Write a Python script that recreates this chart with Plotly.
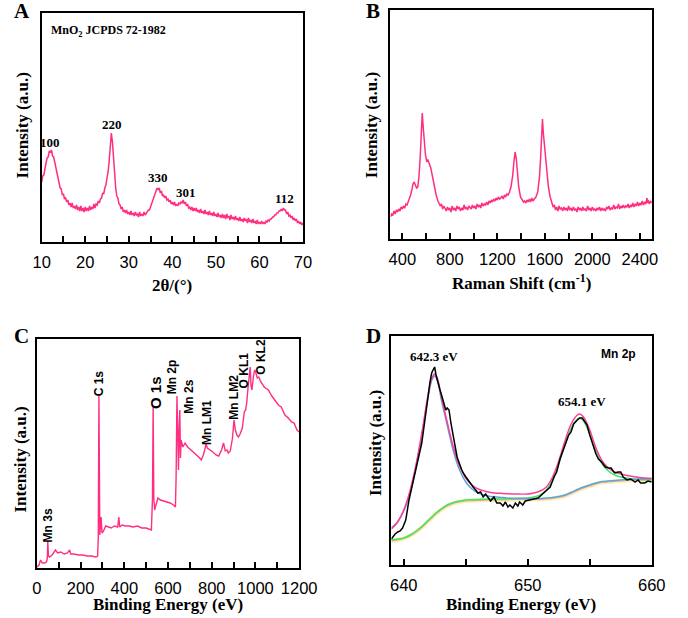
import plotly.graph_objects as go

# ---------------- Panel A: XRD ----------------
xrd_int = [60, 66, 67, 75, 79, 84, 85, 91, 90, 92, 86, 85, 80, 74, 70, 63, 61, 54, 53, 47,
           48, 43, 44, 40, 42, 37, 39, 35, 39, 34, 36, 33, 37, 32, 35, 31, 36, 31, 34, 30,
           35, 31, 34, 31, 36, 32, 35, 33, 38, 34, 38, 37, 41, 39, 43, 44, 49, 48, 54, 57,
           64, 70, 81, 95, 109, 100, 84, 66, 54, 46, 44, 38, 37, 33, 35, 30, 32, 29, 32, 28,
           30, 27, 31, 27, 29, 26, 30, 27, 28, 25, 30, 26, 28, 26, 30, 27, 29, 30, 32, 32,
           35, 37, 41, 43, 47, 50, 54, 52, 54, 49, 51, 46, 47, 44, 46, 42, 43, 40, 42, 38,
           40, 37, 40, 36, 38, 36, 39, 38, 40, 39, 42, 38, 40, 36, 38, 34, 35, 32, 35, 31,
           34, 31, 34, 30, 32, 29, 33, 29, 31, 28, 32, 28, 30, 27, 31, 27, 29, 26, 30, 26,
           28, 25, 29, 25, 27, 24, 28, 24, 27, 23, 28, 24, 26, 22, 27, 23, 25, 22, 26, 22,
           24, 21, 25, 21, 23, 20, 24, 21, 23, 19, 24, 20, 22, 19, 23, 19, 21, 18, 22, 18,
           20, 18, 21, 18, 20, 18, 21, 20, 22, 21, 23, 23, 25, 25, 27, 27, 29, 29, 31, 31,
           33, 31, 34, 32, 32, 28, 30, 26, 27, 24, 26, 22, 24, 21, 23, 19, 21, 18, 20, 17,
           19]
xrd_2theta = [10 + 0.25 * i for i in range(241)]
xrd_peak_labels = ["100", "220", "330", "301", "112"]
xrd_peak_x = [12.0, 26.1, 36.7, 43.1, 65.8]
xrd_peak_y = [100, 118, 65, 50, 44]

# ---------------- Panel B: Raman ----------------
raman_shift = [300, 310, 320, 330, 340, 350, 360, 370, 380, 390,
               400, 410, 420, 430, 440, 450, 460, 470, 480, 490,
               500, 510, 520, 530, 540, 550, 560, 568, 576, 585,
               595, 605, 615, 625, 640, 655, 670, 685, 700, 710,
               720, 730, 740, 750, 760, 770, 780, 790, 800, 810,
               820, 830, 840, 850, 860, 870, 880, 890, 900, 910,
               920, 930, 940, 950, 960, 970, 980, 990, 1000, 1010,
               1020, 1030, 1040, 1050, 1060, 1070, 1080, 1090, 1100, 1110,
               1120, 1130, 1140, 1150, 1160, 1170, 1180, 1190, 1200, 1210,
               1220, 1230, 1240, 1250, 1260, 1270, 1280, 1290, 1300, 1315,
               1330, 1340, 1350, 1360, 1370, 1380, 1395, 1410, 1420, 1430,
               1440, 1450, 1460, 1470, 1480, 1490, 1500, 1510, 1525, 1540,
               1555, 1565, 1573, 1580, 1588, 1598, 1608, 1618, 1630, 1645,
               1660, 1670, 1680, 1690, 1700, 1710, 1720, 1730, 1740, 1750,
               1760, 1770, 1780, 1790, 1800, 1810, 1820, 1830, 1840, 1850,
               1860, 1870, 1880, 1890, 1900, 1910, 1920, 1930, 1940, 1950,
               1960, 1970, 1980, 1990, 2000, 2010, 2020, 2030, 2040, 2050,
               2060, 2070, 2080, 2090, 2100, 2110, 2120, 2130, 2140, 2150,
               2160, 2170, 2180, 2190, 2200, 2210, 2220, 2230, 2240, 2250,
               2260, 2270, 2280, 2290, 2300, 2310, 2320, 2330, 2340, 2350,
               2360, 2370, 2380, 2390, 2400, 2410, 2420, 2430, 2440, 2450,
               2460, 2465, 2470, 2480, 2490, 2500]
raman_int = [22, 25, 24, 28, 25, 29, 27, 30, 28, 32,
             30, 33, 31, 35, 34, 37, 39, 44, 49, 55,
             57, 53, 51, 52, 62, 80, 110, 126, 112, 97,
             84, 78, 79, 76, 71, 62, 51, 44, 38, 36,
             33, 35, 30, 33, 31, 28, 32, 29, 31, 27,
             33, 29, 31, 28, 33, 30, 32, 28, 31, 29,
             34, 30, 32, 29, 33, 31, 30, 34, 31, 33,
             30, 35, 32, 34, 31, 36, 33, 35, 34, 37,
             34, 38, 36, 39, 37, 40, 38, 41, 39, 42,
             40, 41, 43, 40, 44, 42, 45, 44, 46, 52,
             64, 78, 87, 80, 66, 52, 42, 39, 37, 38,
             36, 39, 37, 40, 37, 41, 38, 40, 42, 47,
             62, 82, 108, 120, 105, 92, 80, 66, 52, 42,
             36, 32, 34, 29, 32, 28, 33, 30, 31, 28,
             32, 29, 31, 28, 33, 29, 31, 28, 32, 29,
             30, 27, 32, 29, 31, 28, 32, 29, 30, 28,
             33, 29, 31, 28, 32, 29, 30, 28, 31, 29,
             32, 28, 31, 29, 30, 28, 32, 30, 33, 29,
             31, 30, 34, 30, 32, 31, 35, 30, 33, 31,
             34, 31, 33, 32, 35, 31, 34, 32, 36, 32,
             35, 33, 37, 33, 36, 34, 38, 34, 37, 35,
             41, 36, 39, 35, 38, 36]

# ---------------- Panel C: XPS survey ----------------
survey_be = [0, 10, 17, 25, 35, 44, 48, 50, 53, 58, 70, 85, 95, 110, 125, 140, 150, 155, 170, 190,
             210, 230, 250, 270, 278, 281, 284, 286, 288, 292, 294, 298, 305, 315, 327, 340, 355, 370,
             375, 379, 390, 405, 422, 440, 460, 480, 500, 515, 524, 529, 532, 535, 539, 545, 554, 565,
             580, 598, 610, 625, 634, 637, 641, 645, 648, 651, 654, 657, 660, 668, 678, 690, 700, 715,
             730, 745, 752, 760, 768, 774, 780, 790, 805, 820, 832, 845, 854, 862, 870, 876, 885, 895,
             902, 908, 915, 922, 930, 940, 949, 955, 960, 966, 972, 976, 980, 984, 990, 996, 1000, 1008,
             1015, 1025, 1040, 1059, 1075, 1090, 1105, 1118, 1135, 1150, 1165, 1177, 1190, 1200]
survey_int = [1, 3, 8, 5, 5, 6, 10, 27, 12, 11, 13, 18, 15, 16, 14, 15, 18, 14, 14, 13,
              13, 12, 12, 11, 12, 30, 173, 60, 33, 45, 51, 35, 37, 42, 41, 40, 42, 41,
              51, 41, 43, 42, 42, 41, 42, 40, 40, 39, 38, 70, 162, 70, 58, 63, 70, 68,
              67, 66, 65, 63, 61, 90, 172, 130, 98, 140, 158, 110, 128, 121, 125, 121, 119, 117,
              113, 110, 108, 112, 118, 124, 120, 118, 116, 113, 112, 118, 125, 117, 118, 115, 117, 130,
              148, 138, 133, 131, 134, 140, 156, 158, 165, 180, 199, 201, 182, 178, 190, 198, 197, 190,
              191, 186, 181, 178, 172, 167, 163, 161, 153, 150, 146, 145, 138, 136]
survey_labels = ["Mn 3s", "C 1s", "O 1s", "Mn 2p", "Mn 2s", "Mn LM1", "Mn LM2", "O KL1", "O KL2"]

# ---------------- Panel D: Mn 2p ----------------
mn_be = [639.0, 639.13, 639.3, 639.52, 639.7, 639.9, 640.16, 640.42, 640.6, 640.81, 641.0, 641.2, 641.45,
         641.65, 641.84, 642.0, 642.1, 642.25, 642.36, 642.49, 642.6, 642.75, 642.9, 643.0, 643.2, 643.39,
         643.5, 643.65, 643.8, 643.91, 644.1, 644.3, 644.5, 644.68, 644.9, 645.07, 645.3, 645.59, 645.8,
         645.98, 646.2, 646.4, 646.6, 646.75, 647.0, 647.27, 647.5, 647.79, 648.0, 648.2, 648.4, 648.56,
         648.8, 649.0, 649.2, 649.34, 649.6, 649.8, 650.06, 650.26, 650.5, 650.83, 651.1, 651.3, 651.61,
         651.81, 652.12, 652.33, 652.6, 652.85, 653.1, 653.3, 653.49, 653.7, 654.0, 654.2, 654.4, 654.6,
         654.78, 655.0, 655.3, 655.5, 655.7, 655.95, 656.26, 656.5, 656.72, 657.0, 657.3, 657.5, 657.7,
         658.0, 658.3, 658.66, 658.9, 659.1, 659.43, 659.7, 660.0]
mn_int = [26, 28, 31, 33, 34, 37, 45, 65, 75, 88, 99, 108, 122,
          140, 155, 172, 182, 192, 195, 198, 190, 182, 176, 172, 163, 155,
          157, 155, 142, 135, 120, 108, 101, 95, 90, 87, 82, 78, 75,
          72, 73, 68, 71, 68, 64, 68, 62, 62, 59, 63, 58, 60,
          57, 62, 59, 63, 60, 64, 65, 65, 66, 67, 70, 72, 75,
          78, 88, 93, 106, 115, 125, 130, 133, 141, 145, 147, 147, 143,
          140, 130, 118, 111, 106, 103, 98, 97, 97, 92, 93, 93, 88,
          85, 86, 83, 85, 82, 82, 84, 83]

fit_be = [639.0, 639.5, 640.0, 640.5, 641.0, 641.5, 642.0, 642.3, 642.5, 642.75, 643.0, 643.5, 644.0,
          644.5, 645.0, 645.5, 646.0, 646.5, 647.0, 648.0, 649.0, 650.0, 650.5, 651.0, 651.5, 652.0,
          652.5, 653.0, 653.5, 654.0, 654.2, 654.5, 655.0, 655.5, 656.0, 656.5, 657.0, 657.5, 658.0,
          658.5, 659.0, 660.0]
fit_envelope = [36, 43, 55, 74, 101, 135, 173, 188, 191, 185, 170, 143, 118,
                99, 87, 80, 76, 74, 72.5, 71.5, 71, 71, 72, 74, 78, 88,
                104, 124, 141, 150, 151, 148, 135, 117, 104, 97, 93, 91, 89.5,
                88.5, 87.5, 86.5]
fit_peak1 = [37, 43, 54, 72, 99, 133, 171, 186, 189, 183, 167, 140, 114,
             95, 83, 76, 72, 70, 68.5, 67.5, 66.5, 66.5, 66.5, 66.5, 67, 67.5,
             68.5, 70, 72.5, 75.5, 76.5, 78, 80, 82, 83.5, 84, 84.5, 85, 85.5,
             85.8, 86, 86.5]
fit_peak2 = [25, 26, 27, 30, 34, 39, 45, 48.5, 51, 53.5, 56, 60, 62.5,
             64, 65, 65.3, 65.5, 65.8, 66, 66, 66.5, 67, 68, 70, 75, 85,
             101, 120, 137, 146, 147, 144, 131, 114, 101, 94, 90, 88, 87,
             86, 85.5, 85]
fit_background = [24, 25, 26.5, 29, 33, 38, 44, 47.5, 50, 52.5, 55, 59, 61.5,
                  63, 64, 64.3, 64.5, 64.8, 65, 65, 65.5, 65.5, 65.5, 65.5, 66, 66.5,
                  67.5, 69, 71.5, 74.5, 75.5, 77, 79, 81, 82.5, 83, 83.5, 84, 84.5,
                  84.8, 85, 85.5]

PINK = "#ff2e80"
SERIF = "Liberation Serif"
SANS = "Liberation Sans"

W, H = 688, 618
def px(x):
    return x / W
def py(y):
    return 1 - y / H

fig = go.Figure()

fig.add_trace(go.Scatter(x=xrd_2theta, y=xrd_int, mode="lines", line=dict(color=PINK, width=1.5),
                         xaxis="x", yaxis="y", showlegend=False))
fig.add_trace(go.Scatter(x=raman_shift, y=raman_int, mode="lines", line=dict(color=PINK, width=1.5),
                         xaxis="x2", yaxis="y2", showlegend=False))
fig.add_trace(go.Scatter(x=survey_be, y=survey_int, mode="lines", line=dict(color=PINK, width=1.4),
                         xaxis="x3", yaxis="y3", showlegend=False))
# Panel D fits
fig.add_trace(go.Scatter(x=fit_be, y=fit_background, mode="lines", line=dict(color="#fbf1b0", width=4, shape="spline"),
                         xaxis="x4", yaxis="y4", showlegend=False))
fig.add_trace(go.Scatter(x=fit_be, y=fit_background, mode="lines", line=dict(color="#f6a0a8", width=1.2, shape="spline"),
                         xaxis="x4", yaxis="y4", showlegend=False))
fig.add_trace(go.Scatter(x=fit_be, y=fit_peak2, mode="lines", line=dict(color="#3ee85a", width=1.5, shape="spline"),
                         xaxis="x4", yaxis="y4", showlegend=False))
fig.add_trace(go.Scatter(x=fit_be, y=fit_peak1, mode="lines", line=dict(color="#55a8d8", width=1.5, shape="spline"),
                         xaxis="x4", yaxis="y4", showlegend=False))
fig.add_trace(go.Scatter(x=fit_be, y=fit_envelope, mode="lines", line=dict(color="#ff3c96", width=1.5, shape="spline"),
                         xaxis="x4", yaxis="y4", showlegend=False))
fig.add_trace(go.Scatter(x=mn_be, y=mn_int, mode="lines", line=dict(color="#000000", width=1.5),
                         xaxis="x4", yaxis="y4", showlegend=False))

def xax(domain, rng, dtick, minor, anchor, tick0=0):
    return dict(domain=domain, range=rng, anchor=anchor, showgrid=False, zeroline=False,
                showline=True, mirror=True, linecolor="black", linewidth=1.5,
                ticks="inside", ticklen=6, tickwidth=1.5, tickcolor="black",
                tick0=tick0, dtick=dtick, ticklabelstandoff=4,
                minor=dict(ticks="inside", ticklen=6, tickwidth=1.5, tickcolor="black", dtick=minor, showgrid=False),
                tickfont=dict(family=SANS, size=16.5, color="black"), fixedrange=True)

def yax(domain, anchor):
    return dict(domain=domain, range=[0, 229], anchor=anchor, showgrid=False, zeroline=False,
                showline=True, mirror=True, linecolor="black", linewidth=1.5,
                showticklabels=False, ticks="", fixedrange=True)

fig.update_layout(
    width=W, height=H, margin=dict(l=0, r=0, t=0, b=0),
    paper_bgcolor="white", plot_bgcolor="white",
    xaxis=xax([px(34), px(306)], [10, 70], 10, 5, "y"),
    yaxis=yax([py(242), py(13)], "x"),
    xaxis2=xax([px(397), px(669)], [300, 2500], 400, 200, "y2"),
    yaxis2=yax([py(239), py(10)], "x2"),
    xaxis3=xax([px(29), px(302)], [0, 1200], 200, 100, "y3"),
    yaxis3=yax([py(568), py(339)], "x3"),
    xaxis4=xax([px(398), px(669)], [639, 660], 10, 5, "y4"),
    yaxis4=yax([py(565), py(336)], "x4"),
)

ann = []
def paper_text(text, x, y, size, family=SERIF, angle=0, xanchor="center"):
    ann.append(dict(text=text, x=px(x), y=py(y), xref="paper", yref="paper", showarrow=False,
                    xanchor=xanchor, yanchor="middle", textangle=angle,
                    font=dict(family=family, size=size, color="black")))

# Panel letters
paper_text("<b>A</b>", 14, 11, 21)
paper_text("<b>B</b>", 379, 11, 21)
paper_text("<b>C</b>", 13, 336, 21)
paper_text("<b>D</b>", 379, 336, 21)

# Axis titles
paper_text("<b>2θ/(°)</b>", 170, 285, 17)
paper_text("<b>Raman Shift (cm<sup>-1</sup>)</b>", 533, 282, 17)
paper_text("<b>Binding Energy (eV)</b>", 165, 604, 17)
paper_text("<b>Binding Energy (eV)</b>", 533, 604, 17)
paper_text("<b>Intensity (a.u.)</b>", 15, 125, 17, angle=-90)
paper_text("<b>Intensity (a.u.)</b>", 378, 125, 17, angle=-90)
paper_text("<b>Intensity (a.u.)</b>", 11, 460, 17, angle=-90)
paper_text("<b>Intensity (a.u.)</b>", 381, 443, 17, angle=-90)

# Panel A annotations
paper_text("<b>MnO<sub>2</sub> JCPDS 72-1982</b>", 42, 31, 12, xanchor="left")
for lab, xv, yv in zip(xrd_peak_labels, xrd_peak_x, xrd_peak_y):
    ann.append(dict(text="<b>%s</b>" % lab, x=xv, y=yv, xref="x", yref="y", showarrow=False,
                    font=dict(family=SERIF, size=13, color="black")))

# Panel C labels (rotated)
c_pos = [(41, 525, 12), (94, 383, 12), (152, 393, 15), (170, 377, 12), (187, 397, 12),
         (206, 422, 12), (234, 397, 12), (245, 370, 12), (262, 357, 12)]
for lab, (x, y, s) in zip(survey_labels, c_pos):
    paper_text("<b>%s</b>" % lab, x, y, s, family=SANS, angle=-90)

# Panel D labels
paper_text("<b>642.3 eV</b>", 442, 356, 13)
paper_text("<b>654.1 eV</b>", 596, 401, 13)
paper_text("<b>Mn 2p</b>", 634, 354, 12, family=SANS)

fig.update_layout(annotations=ann)
fig.write_html("out.html", config={"displayModeBar": False},
               post_script="document.body.style.margin='0';document.body.style.overflow='hidden';")
